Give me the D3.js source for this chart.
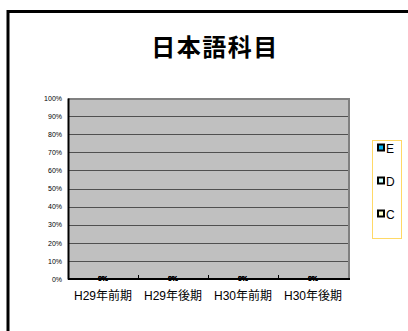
<!DOCTYPE html>
<html>
<head>
<meta charset="utf-8">
<script src="https://cdn.jsdelivr.net/npm/d3@7"></script>
<style>
  body { margin: 0; background: #fff; }
  text { font-family: "Liberation Sans", "Noto Sans CJK JP", sans-serif; }
</style>
</head>
<body>
<svg width="408" height="331"></svg>
<script>
const title = '日本語科目';
const categories = ['H29年前期', 'H29年後期', 'H30年前期', 'H30年後期'];
const seriesNames = ['C', 'D', 'E'];
const seriesColors = ['#ffffcc', '#ccffff', '#00b0f0'];
const valuesC = [0, 0, 0, 0];
const valuesD = [0, 0, 0, 0];
const valuesE = [0, 0, 0, 0];
const yTicks = [0, 0.1, 0.2, 0.3, 0.4, 0.5, 0.6, 0.7, 0.8, 0.9, 1];

const svg = d3.select('svg');

// outer frame (runs off right / bottom)
svg.append('rect')
    .attr('x', 8).attr('y', 11.5)
    .attr('width', 420).attr('height', 340)
    .attr('fill', 'none').attr('stroke', '#000').attr('stroke-width', 3);

svg.append('text')
    .attr('x', 215).attr('y', 56)
    .attr('text-anchor', 'middle')
    .attr('font-size', 24).attr('font-weight', 'bold')
    .attr('letter-spacing', 1.5)
    .style('font-family', '"Noto Sans CJK JP", sans-serif')
    .text(title);

const pl = 68, pr = 348, pt = 98, pb = 279;

const x = d3.scaleBand().domain(categories).range([pl, pr])
    .paddingInner(0.5).paddingOuter(0.25);
const y = d3.scaleLinear().domain([0, 1]).range([pb, pt]);

svg.append('rect')
    .attr('x', pl).attr('y', pt)
    .attr('width', pr - pl).attr('height', pb - pt)
    .attr('fill', '#c0c0c0');

// grid
svg.append('g').selectAll('line').data(yTicks.slice(1, -1))
    .enter().append('line')
    .attr('x1', pl).attr('x2', pr)
    .attr('y1', d => Math.round(y(d)) + 0.5).attr('y2', d => Math.round(y(d)) + 0.5)
    .attr('stroke', '#505050').attr('stroke-width', 1);

// top and right border of plot
svg.append('path')
    .attr('d', `M${pl},${pt + 1}H${pr + 1}V${pb}`)
    .attr('fill', 'none').attr('stroke', '#808080').attr('stroke-width', 2);

// stacked bars
const rows = categories.map((c, i) => ({ cat: c, C: valuesC[i], D: valuesD[i], E: valuesE[i] }));
const stack = d3.stack().keys(seriesNames)(rows);
svg.append('g').selectAll('g').data(stack).enter().append('g')
    .attr('fill', (d, i) => seriesColors[i])
    .selectAll('rect').data(d => d).enter().append('rect')
    .attr('x', d => x(d.data.cat))
    .attr('width', x.bandwidth())
    .attr('y', d => y(d[1]))
    .attr('height', d => y(d[0]) - y(d[1]))
    .attr('stroke', '#000').attr('stroke-width', 0.5);

// y axis
const yAxis = svg.append('g')
    .attr('transform', `translate(${pl},0)`)
    .call(d3.axisLeft(y).tickValues(yTicks).tickFormat(d3.format('.0%')).tickSize(0).tickPadding(6));
yAxis.select('.domain').attr('stroke', '#000').attr('stroke-width', 2);
yAxis.selectAll('text').attr('font-size', 7).attr('fill', '#000');

// x axis
const xAxis = svg.append('g')
    .attr('transform', `translate(0,${pb})`)
    .call(d3.axisBottom(x).tickSize(0).tickPadding(12));
xAxis.select('.domain').attr('d', `M${pl},0H${pr + 2}`).attr('stroke', '#000').attr('stroke-width', 2);
xAxis.selectAll('text').attr('font-size', 12).attr('fill', '#000')
    .style('font-family', '"Liberation Sans", "Noto Sans CJK JP", sans-serif');

// inner ticks at category boundaries
const bounds = categories.slice(1).map(c => x(c) - x.step() * x.paddingInner() / 2);
svg.append('g').selectAll('line').data(bounds).enter().append('line')
    .attr('x1', d => d + 0.5).attr('x2', d => d + 0.5)
    .attr('y1', pb).attr('y2', pb - 4)
    .attr('stroke', '#000');

// value labels (all series stack to the same spot)
svg.append('g').selectAll('g').data(stack).enter().append('g')
    .selectAll('text').data(d => d).enter().append('text')
    .attr('x', d => x(d.data.cat) + x.bandwidth() / 2)
    .attr('y', d => y((d[0] + d[1]) / 2) + 2)
    .attr('text-anchor', 'middle')
    .attr('font-size', 7).attr('font-weight', 'bold')
    .text(d => d3.format('.0%')(d[1] - d[0]));

// legend
const lg = svg.append('g');
lg.append('rect')
    .attr('x', 372.5).attr('y', 140.5).attr('width', 29).attr('height', 98)
    .attr('fill', '#fff').attr('stroke', '#ffd966');
const items = seriesNames.slice().reverse();
const itemColors = seriesColors.slice().reverse();
const ly = d3.scalePoint().domain(items).range([148, 214]);
items.forEach((s, i) => {
    lg.append('rect')
        .attr('x', 378).attr('y', ly(s) - 3.5).attr('width', 6).attr('height', 6)
        .attr('fill', itemColors[i]).attr('stroke', '#000').attr('stroke-width', 2);
    lg.append('text')
        .attr('x', 386).attr('y', ly(s) + 4.5)
        .attr('font-size', 12).attr('fill', '#000')
        .text(s);
});
</script>
</body>
</html>
